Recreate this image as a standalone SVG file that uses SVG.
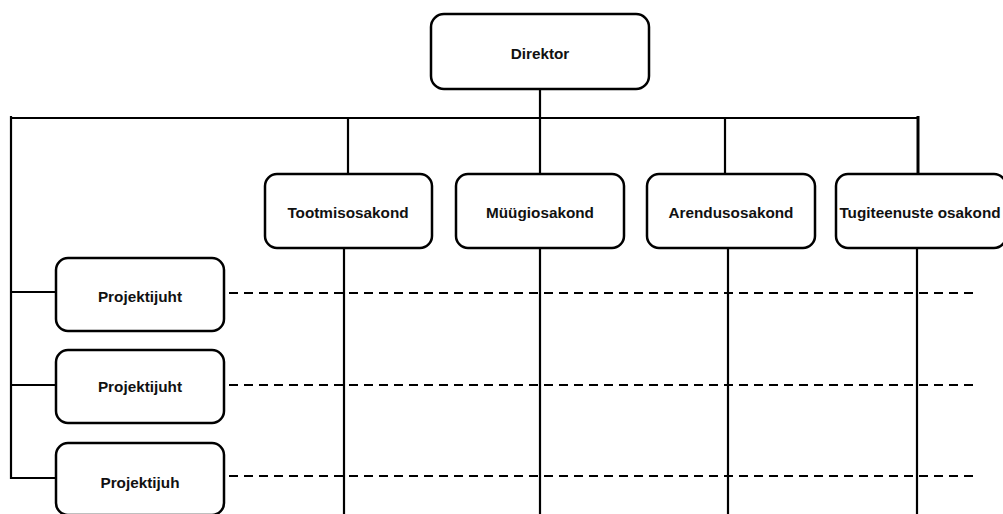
<svg xmlns="http://www.w3.org/2000/svg" width="1003" height="514" viewBox="0 0 1003 514">
<style>
.box{fill:#fff;stroke:#000;stroke-width:2.5}
.ln{stroke:#000;stroke-width:2.2;fill:none}
.dash{stroke:#000;stroke-width:2;stroke-dasharray:9 6;fill:none}
.t{font-family:"Liberation Sans",Arial,sans-serif;font-weight:bold;font-size:15.3px;fill:#111;text-anchor:middle}
</style>
<rect width="1003" height="514" fill="#fff"/>
<g id="connectors">
<line class="ln" x1="540" y1="89" x2="540" y2="118"/>
<line class="ln" x1="10" y1="118" x2="918" y2="118"/>
<line class="ln" x1="11" y1="116" x2="11" y2="479"/>
<line class="ln" x1="348" y1="118" x2="348" y2="174"/>
<line class="ln" x1="540" y1="118" x2="540" y2="174"/>
<line class="ln" x1="725" y1="118" x2="725" y2="174"/>
<line class="ln" x1="918" y1="116" x2="918" y2="174" style="stroke-width:3"/>
<line class="ln" x1="344" y1="248" x2="344" y2="514"/>
<line class="ln" x1="540" y1="248" x2="540" y2="514"/>
<line class="ln" x1="728" y1="248" x2="728" y2="514"/>
<line class="ln" x1="917" y1="248" x2="917" y2="514"/>
<line class="ln" x1="10" y1="292" x2="56" y2="292"/>
<line class="ln" x1="10" y1="385" x2="56" y2="385"/>
<line class="ln" x1="10" y1="478" x2="56" y2="478"/>
<line class="dash" x1="229" y1="293" x2="974" y2="293"/>
<line class="dash" x1="229" y1="385" x2="974" y2="385"/>
<line class="dash" x1="229" y1="476" x2="974" y2="476"/>
</g>
<g id="direktor"><rect class="box" x="431" y="14" width="218" height="75" rx="13"/><text class="t" x="540" y="59">Direktor</text></g>
<g id="tootmisosakond"><rect class="box" x="265" y="174" width="167" height="74" rx="12"/><text class="t" x="348" y="218">Tootmisosakond</text></g>
<g id="myygiosakond"><rect class="box" x="456" y="174" width="168" height="74" rx="12"/><text class="t" x="540" y="218">Müügiosakond</text></g>
<g id="arendusosakond"><rect class="box" x="647" y="174" width="168" height="74" rx="12"/><text class="t" x="731" y="218">Arendusosakond</text></g>
<g id="tugiteenuste"><rect class="box" x="836" y="174" width="170" height="74" rx="12"/><text class="t" x="920" y="218">Tugiteenuste osakond</text></g>
<g id="projektijuht1"><rect class="box" x="56" y="258" width="168" height="73" rx="12"/><text class="t" x="140" y="302">Projektijuht</text></g>
<g id="projektijuht2"><rect class="box" x="56" y="350" width="168" height="73" rx="12"/><text class="t" x="140" y="392">Projektijuht</text></g>
<g id="projektijuht3"><rect class="box" x="56" y="443" width="168" height="72" rx="12"/><text class="t" x="140" y="488">Projektijuh</text></g>
</svg>
